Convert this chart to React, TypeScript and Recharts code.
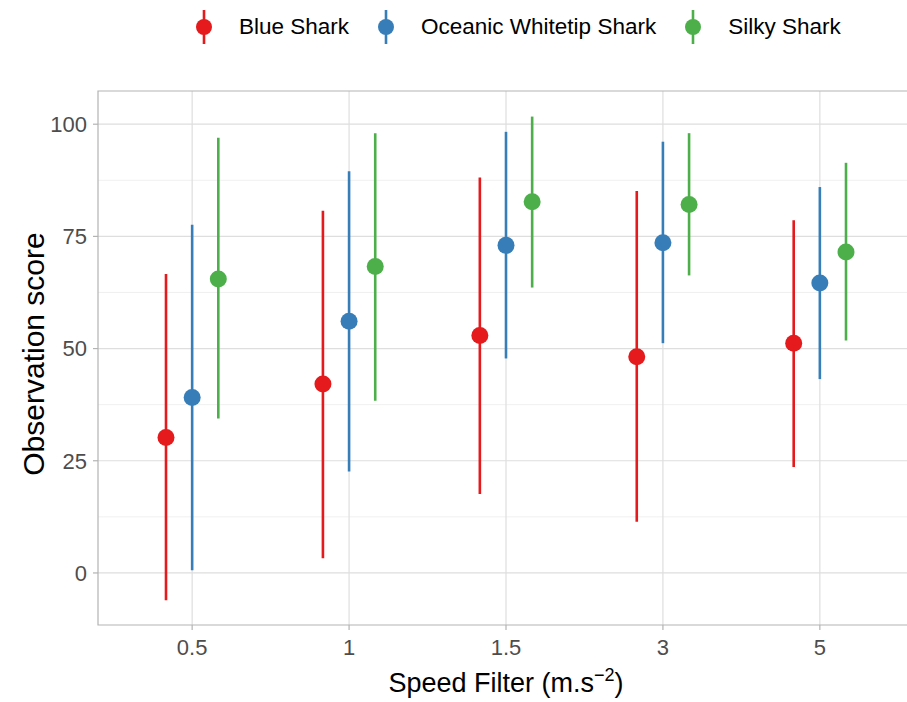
import {
  CartesianGrid,
  ErrorBar,
  ReferenceArea,
  Scatter,
  ScatterChart,
  XAxis,
  YAxis,
} from 'recharts'

const categories = ['0.5', '1', '1.5', '3', '5']
const seriesNames = ['Blue Shark', 'Oceanic Whitetip Shark', 'Silky Shark']
const seriesColors = ['#E41A1C', '#377EB8', '#4DAF4A']

const blueMean = [30.2, 42.1, 52.9, 48.2, 51.2]
const blueLow = [-6.1, 3.3, 17.6, 11.4, 23.6]
const blueHigh = [66.6, 80.7, 88.1, 85.1, 78.6]

const oceanicMean = [39.1, 56.1, 73.0, 73.6, 64.6]
const oceanicLow = [0.6, 22.6, 47.8, 51.2, 43.2]
const oceanicHigh = [77.6, 89.5, 98.3, 96.1, 86.0]

const silkyMean = [65.5, 68.3, 82.7, 82.1, 71.5]
const silkyLow = [34.4, 38.4, 63.6, 66.3, 51.8]
const silkyHigh = [97.0, 98.0, 101.7, 98.0, 91.4]

const yTicks = [0, 25, 50, 75, 100]
const yMinor = [12.5, 37.5, 62.5, 87.5]
const xDomain: [number, number] = [0.4, 5.6]
const yDomain: [number, number] = [-11.6, 107.4]
const dodgeWidth = 0.5

const seriesStats = [
  [blueMean, blueLow, blueHigh],
  [oceanicMean, oceanicLow, oceanicHigh],
  [silkyMean, silkyLow, silkyHigh],
]

// dodge each series around its category, like position_dodge(0.5)
const seriesData = seriesStats.map(([mean, low, high], s) =>
  categories.map((_, i) => ({
    x: i + 1 + ((s - 1) * dodgeWidth) / 3,
    y: mean[i],
    err: [mean[i] - low[i], high[i] - mean[i]],
  }))
)

const font = '"Liberation Sans", Arial, sans-serif'

const Dot = (props: any) => (
  <circle cx={props.cx} cy={props.cy} r={8.5} fill={props.fill} />
)

const YTitle = ({ viewBox }: any) => (
  <text
    x={viewBox.x + 33}
    y={viewBox.y + viewBox.height / 2 - 4}
    transform={`rotate(-90, ${viewBox.x + 33}, ${viewBox.y + viewBox.height / 2 - 4})`}
    textAnchor="middle"
    dominantBaseline="central"
    fontSize={30}
    fontFamily={font}
    fill="#000"
  >
    Observation score
  </text>
)

const XTitle = ({ viewBox }: any) => (
  <text
    x={viewBox.x + viewBox.width / 2}
    y={viewBox.y + 67}
    textAnchor="middle"
    fontSize={27}
    fontFamily={font}
    fill="#000"
  >
    Speed Filter (m.s
    <tspan dy={-11} fontSize={18}>
      −2
    </tspan>
    <tspan dy={11}>)</tspan>
  </text>
)

function Legend() {
  return (
    <div
      style={{
        position: 'absolute',
        left: 194,
        top: 9,
        display: 'flex',
        alignItems: 'center',
        fontFamily: font,
        fontSize: 22.5,
        color: '#000',
      }}
    >
      {seriesNames.map((name, i) => (
        <div key={name} style={{ display: 'flex', alignItems: 'center' }}>
          <svg width={20} height={36} style={{ display: 'block' }}>
            <line x1={10} x2={10} y1={1} y2={35} stroke={seriesColors[i]} strokeWidth={2.6} />
            <circle cx={10} cy={18} r={8} fill={seriesColors[i]} />
          </svg>
          <span style={{ marginLeft: 25, marginRight: i < 2 ? 27 : 0 }}>{name}</span>
        </div>
      ))}
    </div>
  )
}

export default function App() {
  return (
    <div
      style={{
        position: 'absolute',
        left: 0,
        top: 0,
        width: 907,
        height: 702,
        overflow: 'hidden',
        background: '#fff',
      }}
    >
      <Legend />
      <ScatterChart
        width={920}
        height={702}
        margin={{ top: 91, right: 6, bottom: 0, left: 0 }}
      >
        <CartesianGrid
          vertical={false}
          horizontalValues={yMinor}
          stroke="#ececec"
          strokeWidth={0.8}
        />
        <CartesianGrid
          horizontalValues={yTicks}
          verticalValues={[1, 2, 3, 4, 5]}
          stroke="#dedede"
          strokeWidth={1.2}
        />
        <ReferenceArea
          x1={xDomain[0]}
          x2={xDomain[1]}
          y1={yDomain[0]}
          y2={yDomain[1]}
          fill="none"
          fillOpacity={0}
          stroke="#b3b3b3"
          strokeWidth={1.2}
          ifOverflow="visible"
        />
        <XAxis
          dataKey="x"
          type="number"
          domain={xDomain}
          ticks={[1, 2, 3, 4, 5]}
          tickFormatter={(v: number) => categories[v - 1]}
          allowDataOverflow
          height={77}
          axisLine={false}
          tickLine={{ stroke: '#b3b3b3', strokeWidth: 1.2 }}
          tickSize={5}
          tickMargin={9}
          tick={{ fill: '#4d4d4d', fontSize: 22, fontFamily: font }}
          label={<XTitle />}
        />
        <YAxis
          dataKey="y"
          type="number"
          domain={yDomain}
          ticks={yTicks}
          allowDataOverflow
          width={98}
          axisLine={false}
          tickLine={{ stroke: '#b3b3b3', strokeWidth: 1.2 }}
          tickSize={5}
          tickMargin={6}
          tick={{ fill: '#4d4d4d', fontSize: 22, fontFamily: font }}
          label={<YTitle />}
        />
        {seriesData.map((data, s) => (
          <Scatter
            key={seriesNames[s]}
            name={seriesNames[s]}
            data={data}
            fill={seriesColors[s]}
            shape={<Dot />}
            isAnimationActive={false}
          >
            <ErrorBar
              dataKey="err"
              direction="y"
              width={0}
              stroke={seriesColors[s]}
              strokeWidth={2.6}
              isAnimationActive={false}
            />
          </Scatter>
        ))}
      </ScatterChart>
    </div>
  )
}
